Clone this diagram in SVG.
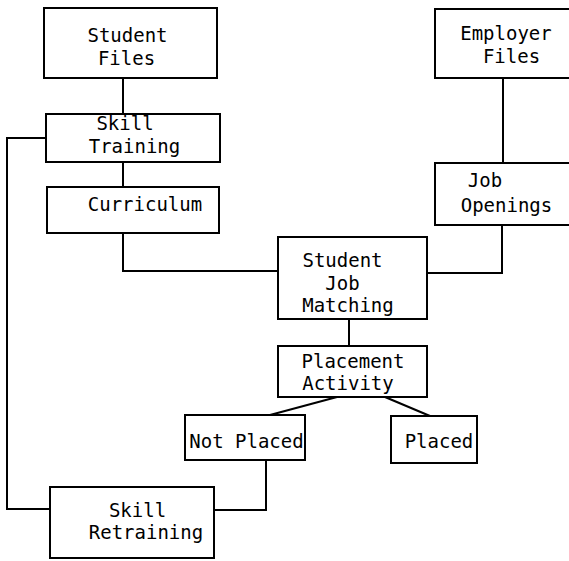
<svg xmlns="http://www.w3.org/2000/svg" width="569" height="561" viewBox="0 0 569 561">
<style>
.box{fill:#fff;stroke:#000;stroke-width:2}
.ln{fill:none;stroke:#000;stroke-width:2}
text{font-family:"DejaVu Sans Mono","Liberation Mono",monospace;font-size:19px;fill:#000;text-anchor:middle}
</style>
<rect width="569" height="561" fill="#fff"/>
<g id="connectors">
<path class="ln" d="M123 78V114"/>
<path class="ln" d="M123 162V187"/>
<path class="ln" d="M123 233V271H278"/>
<path class="ln" d="M503 78V163"/>
<path class="ln" d="M502 225V273H427"/>
<path class="ln" d="M349 319V346"/>
<path class="ln" d="M337 397L270 415"/>
<path class="ln" d="M385 397L430 416"/>
<path class="ln" d="M266 460V510H214"/>
<path class="ln" d="M50 509H7V138H46"/>
</g>
<g id="student-files"><rect class="box" x="44" y="8" width="173" height="70"/><text x="127.5" y="42">Student</text><text x="126.5" y="65">Files</text></g>
<g id="skill-training"><rect class="box" x="46" y="114" width="174" height="48"/><text x="125" y="130">Skill</text><text x="134.5" y="153">Training</text></g>
<g id="curriculum"><rect class="box" x="47" y="187" width="172" height="46"/><text x="145" y="211">Curriculum</text></g>
<g id="employer-files"><rect class="box" x="435" y="9" width="140" height="69"/><text x="506" y="40">Employer</text><text x="511.5" y="63">Files</text></g>
<g id="job-openings"><rect class="box" x="435" y="163" width="140" height="62"/><text x="485" y="187">Job</text><text x="506.5" y="212">Openings</text></g>
<g id="student-job-matching"><rect class="box" x="278" y="237" width="149" height="82"/><text x="342.5" y="267">Student</text><text x="342.5" y="290">Job</text><text x="348" y="312">Matching</text></g>
<g id="placement-activity"><rect class="box" x="278" y="346" width="149" height="51"/><text x="353" y="368">Placement</text><text x="348" y="390">Activity</text></g>
<g id="not-placed"><rect class="box" x="185" y="415" width="120" height="45"/><text x="246.5" y="448">Not Placed</text></g>
<g id="placed"><rect class="box" x="391" y="416" width="86" height="47"/><text x="439" y="448">Placed</text></g>
<g id="skill-retraining"><rect class="box" x="50" y="487" width="164" height="71"/><text x="137.5" y="517">Skill</text><text x="146" y="539">Retraining</text></g>
</svg>
